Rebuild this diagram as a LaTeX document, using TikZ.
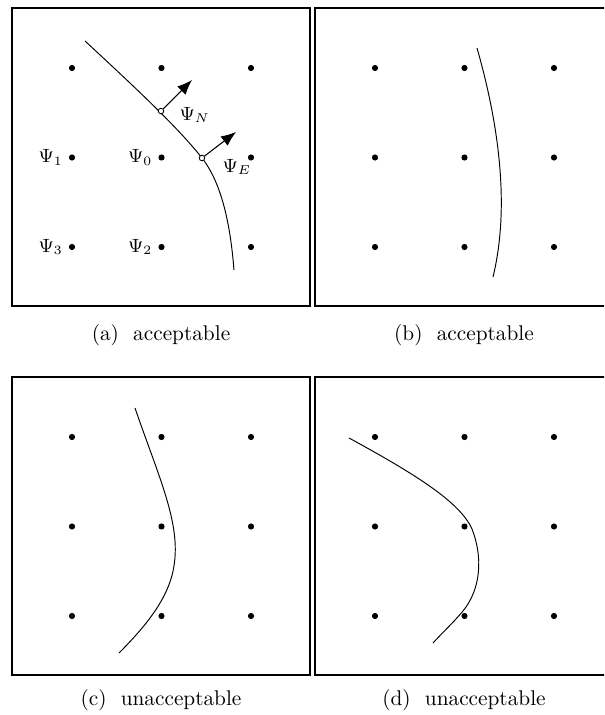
\documentclass[tikz,border=0pt]{standalone}
\usepackage{amsmath}
\usepackage{tikz}
\usetikzlibrary{arrows.meta, positioning}
\tikzset{
  frame/.style={draw, line width=0.55pt},
  gdot/.style={circle, fill, inner sep=0pt, minimum size=2.9pt},
  probe/.style={circle, draw, fill=white, inner sep=0pt,
                minimum size=2.6pt, line width=0.4pt},
  front/.style={line width=0.45pt},
  nrm/.style={-{Latex[length=7pt, width=5.5pt]}, line width=0.5pt},
  lbl/.style={inner sep=0pt, font=\small},
  subcap/.style={inner sep=0pt, font=\normalsize},
}

\begin{document}
\begin{tikzpicture}[x=0.4695pt, y=-0.4695pt]
  \useasboundingbox (0,0) rectangle (604,715);
  \clip (0,0) rectangle (604,715);

  % (a) acceptable
  \begin{scope}[shift={(12,8)}]
    \draw[frame] (0,0) rectangle (298,298);
    \foreach \i/\x in {1/60,2/149.5,3/239}
      \foreach \j/\y in {1/60,2/149.5,3/239}
        \node[gdot] (a\i\j) at (\x,\y) {};
    \draw[front] (73,33) .. controls (115,72) and (165,118) .. (190,150)
      .. controls (212,178) and (219,225) .. (222,262);
    \node[probe] (pN) at (149,103) {};
    \node[probe] (pE) at (190,150) {};
    \coordinate (tN) at (180,72);
    \coordinate (tE) at (224,124);
    \draw[nrm] (pN) -- (tN);
    \draw[nrm] (pE) -- (tE);
    \node[lbl, anchor=west] at ([xshift=8.5pt, yshift=-2pt]pN) {$\Psi_N$};
    \node[lbl, anchor=west] at ([xshift=9.5pt, yshift=-4pt]pE) {$\Psi_E$};
    \node[lbl, left=2.5pt of a12] {$\Psi_1$};
    \node[lbl, left=2.5pt of a22] {$\Psi_0$};
    \node[lbl, left=2.5pt of a13] {$\Psi_3$};
    \node[lbl, left=2.5pt of a23] {$\Psi_2$};
    \node[subcap] (capa) at (149,327) {(a)\ \ acceptable};
  \end{scope}

  % (b) acceptable
  \begin{scope}[shift={(315,8)}]
    \draw[frame] (0,0) rectangle (298,298);
    \foreach \i/\x in {1/60,2/149.5,3/239}
      \foreach \j/\y in {1/60,2/149.5,3/239}
        \node[gdot] (b\i\j) at (\x,\y) {};
    \draw[front] (162,40) .. controls (182,110) and (196,195) .. (178,269);
    \node[subcap] (capb) at (149,327) {(b)\ \ acceptable};
  \end{scope}

  % (c) unacceptable
  \begin{scope}[shift={(12,377)}]
    \draw[frame] (0,0) rectangle (298,298);
    \foreach \i/\x in {1/60,2/149.5,3/239}
      \foreach \j/\y in {1/60,2/149.5,3/239}
        \node[gdot] (c\i\j) at (\x,\y) {};
    \draw[front] (123,31) .. controls (145,95) and (166,140) .. (163,180)
      .. controls (161,212) and (143,240) .. (107,276);
    \node[subcap] (capc) at (149,323) {(c)\ \ unacceptable};
  \end{scope}

  % (d) unacceptable
  \begin{scope}[shift={(315,377)}]
    \draw[frame] (0,0) rectangle (298,298);
    \foreach \i/\x in {1/60,2/149.5,3/239}
      \foreach \j/\y in {1/60,2/149.5,3/239}
        \node[gdot] (d\i\j) at (\x,\y) {};
    \draw[front] (34,61) .. controls (100,97) and (145,125) .. (157,152)
      .. controls (168,180) and (166,212) .. (148,234)
      .. controls (138,246) and (128,255) .. (118,266);
    \node[subcap] (capd) at (149,323) {(d)\ \ unacceptable};
  \end{scope}
\end{tikzpicture}
\end{document}
